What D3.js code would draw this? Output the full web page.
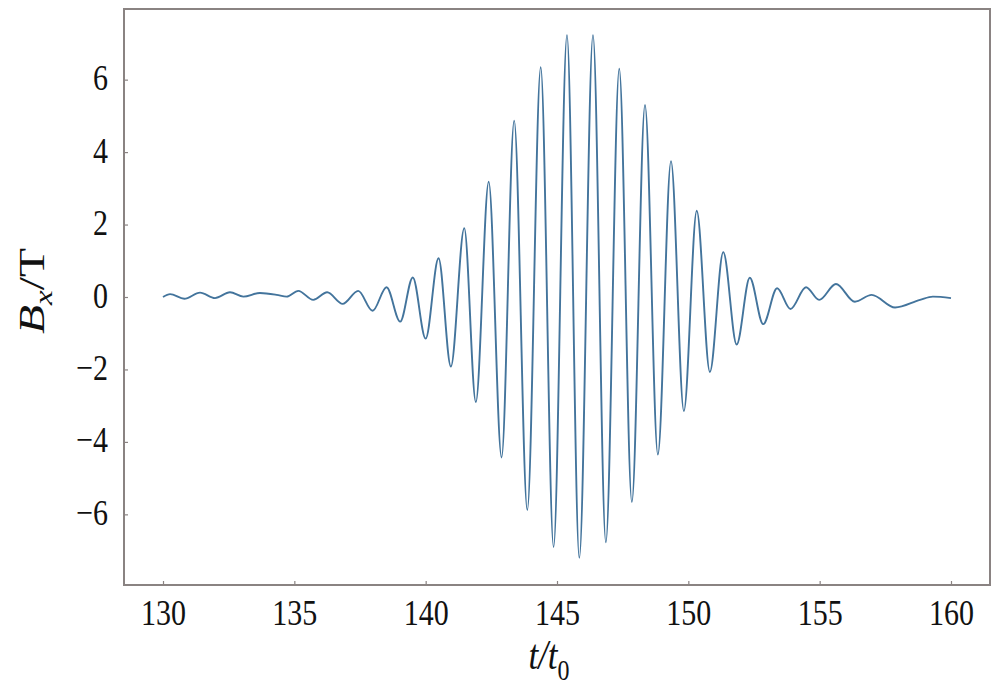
<!DOCTYPE html>
<html>
<head>
<meta charset="utf-8">
<script src="https://cdn.jsdelivr.net/npm/d3@7"></script>
<style>
  html, body { margin: 0; padding: 0; background: #fff; }
  svg text { font-family: "Liberation Serif", "Times New Roman", "DejaVu Serif", serif; fill: #111; font-weight: normal; }
</style>
</head>
<body>
<svg id="chart"></svg>
<script>
// turning points of the wave packet
const tPoints = [
  130.00, 130.27, 130.81, 131.41, 131.98, 132.55, 133.06, 133.69, 134.33, 134.71,
  135.15, 135.72, 136.25, 136.84, 137.43, 137.98, 138.51, 139.03, 139.51, 140.00,
  140.49, 140.96, 141.47, 141.91, 142.40, 142.89, 143.37, 143.87, 144.38, 144.87,
  145.38, 145.85, 146.37, 146.86, 147.37, 147.85, 148.35, 148.84, 149.34, 149.83,
  150.32, 150.82, 151.33, 151.84, 152.34, 152.85, 153.38, 153.89, 154.48, 154.98,
  155.62, 156.34, 156.98, 157.87, 158.82, 159.31, 160.00
]
const bxPoints = [
   0.00,  0.08, -0.05,  0.12, -0.03,  0.13,  0.01,  0.11,  0.06,  0.01,
   0.17, -0.08,  0.13, -0.19,  0.17, -0.38,  0.27, -0.68,  0.54, -1.15,
   1.07, -1.92,  1.90, -2.90,  3.18, -4.43,  4.87, -5.88,  6.34, -6.90,
   7.23, -7.20,  7.23, -6.77,  6.30, -5.66,  5.30, -4.35,  3.75, -3.15,
   2.38, -2.07,  1.24, -1.31,  0.53, -0.75,  0.24, -0.33,  0.27, -0.08,
   0.36, -0.13,  0.06, -0.29, -0.08,  0.01, -0.03
]
const xTicks = [130, 135, 140, 145, 150, 155, 160]
const yTicks = [-6, -4, -2, 0, 2, 4, 6]

const W = 1000, H = 694
const margin = { top: 9, right: 10, bottom: 109, left: 124 }
const w = W - margin.left - margin.right
const h = H - margin.top - margin.bottom
const stretch = 1.22   // the glyphs in the picture are taller than normal

var svg = d3.select("#chart")
  .attr("width", W)
  .attr("height", H)
  .append("g")
  .attr("transform", "translate(" + margin.left + "," + margin.top + ")")

var x = d3.scaleLinear().domain([128.515, 161.485]).range([0, w])
var y = d3.scaleLinear().domain([-7.95, 7.95]).range([h, 0])

var points = tPoints.map((t, i) => ({ t: t, b: bxPoints[i] }))

// the curve
var line = d3.line()
  .x(d => x(d.t))
  .y(d => y(d.b))
  .curve(d3.curveMonotoneX)

svg.append("path")
  .datum(points)
  .attr("d", line)
  .attr("fill", "none")
  .attr("stroke", "#43749c")
  .attr("stroke-width", 1.9)
  .attr("stroke-linejoin", "round")

// axes, ticks point inwards
var gX = svg.append("g")
  .attr("transform", "translate(0," + h + ")")
  .call(d3.axisBottom(x).tickValues(xTicks).tickSizeInner(-4).tickSizeOuter(0).tickPadding(0))
var gY = svg.append("g")
  .call(d3.axisLeft(y).tickValues(yTicks).tickSizeInner(-4).tickSizeOuter(0).tickPadding(0)
    .tickFormat(d => d < 0 ? "\u2212" + Math.abs(d) : d))

gX.select(".domain").remove()
gY.select(".domain").remove()
svg.selectAll(".tick line").attr("stroke", "#8a8382").attr("stroke-width", 1.2)

// d3 sets a sans font on the axis group, take it off
gX.attr("font-family", null)
gY.attr("font-family", null)

gX.selectAll(".tick text")
  .attr("font-size", 30)
  .attr("fill", "#111")
  .attr("dy", null)
  .attr("y", 40 / stretch)
  .attr("transform", "scale(1," + stretch + ")")

gY.selectAll(".tick text")
  .attr("font-size", 30)
  .attr("fill", "#111")
  .attr("x", -16)
  .attr("dy", null)
  .attr("y", 10 / stretch)
  .attr("transform", "scale(1," + stretch + ")")

// frame
svg.append("rect")
  .attr("x", 0).attr("y", 0).attr("width", w).attr("height", h)
  .attr("fill", "none")
  .attr("stroke", "#8a8382")
  .attr("stroke-width", 2)

// axis titles
var xt = svg.append("text")
  .attr("transform", "translate(" + (w / 2 - 8) + "," + (h + 84) + ") scale(1," + stretch + ")")
  .attr("text-anchor", "middle")
  .attr("font-size", 35)
xt.append("tspan").attr("font-style", "italic").text("t/t")
xt.append("tspan").attr("font-size", 24).attr("dy", 9).text("0")

var yt = svg.append("text")
  .attr("transform", "translate(-80," + (h / 2 - 6) + ") rotate(-90) scale(1.32,1)")
  .attr("text-anchor", "middle")
  .attr("font-size", 36)
yt.append("tspan").attr("font-style", "italic").text("B")
yt.append("tspan").attr("font-style", "italic").attr("font-size", 25).attr("dy", 8).text("x")
yt.append("tspan").attr("dy", -8).text("/T")
</script>
</body>
</html>
